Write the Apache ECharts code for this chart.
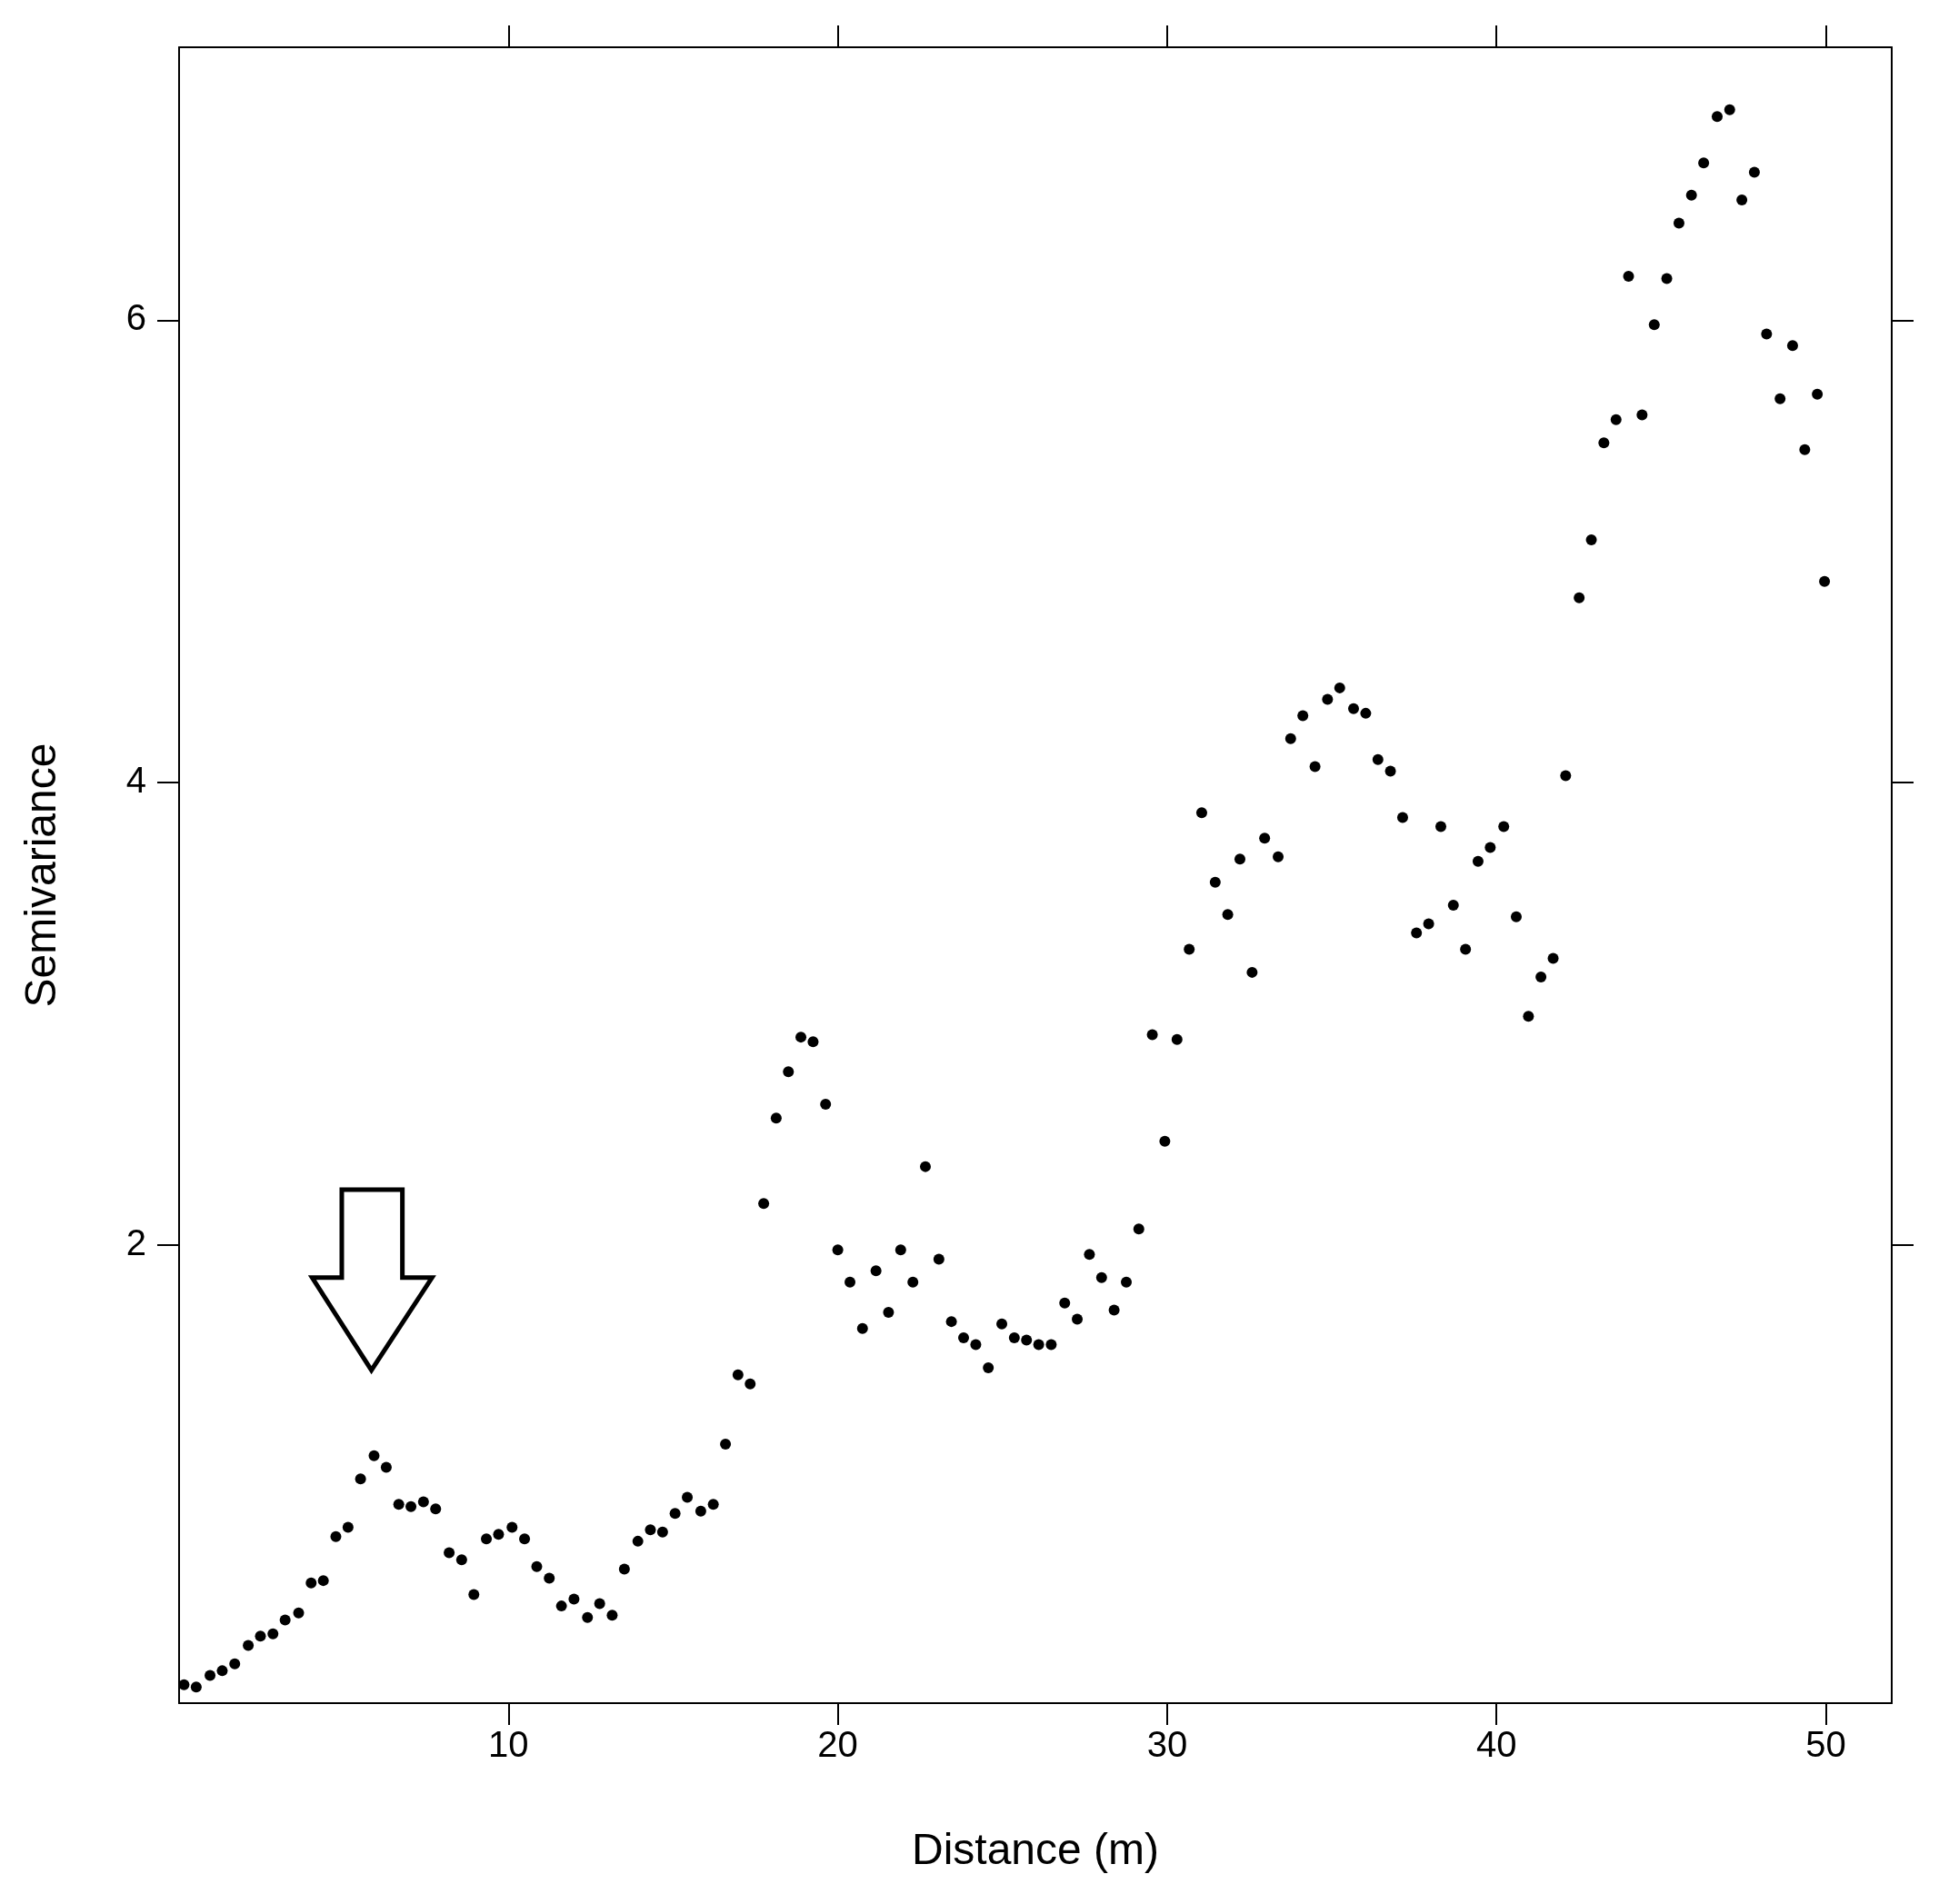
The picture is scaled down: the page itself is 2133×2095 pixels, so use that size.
<!DOCTYPE html>
<html><head><meta charset="utf-8">
<script src="https://cdn.jsdelivr.net/npm/echarts@6/dist/echarts.min.js"></script>
<style>html,body{margin:0;padding:0;background:#fff}#c{width:2133px;height:2095px}</style>
</head><body><div id="c"></div>
<script>
const distance=[0.15,0.52,0.94,1.31,1.69,2.10,2.47,2.85,3.22,3.63,4.01,4.38,4.76,5.13,5.51,5.92,6.29,6.67,7.04,7.42,7.79,8.20,8.58,8.95,9.33,9.70,10.11,10.49,10.86,11.24,11.61,11.99,12.40,12.77,13.15,13.52,13.93,14.31,14.68,15.06,15.43,15.84,16.22,16.59,16.97,17.34,17.75,18.13,18.50,18.88,19.25,19.63,20.00,20.37,20.75,21.16,21.54,21.91,22.28,22.66,23.07,23.45,23.82,24.19,24.57,24.98,25.36,25.73,26.10,26.48,26.89,27.27,27.64,28.01,28.39,28.76,29.14,29.55,29.93,30.30,30.67,31.05,31.46,31.84,32.21,32.58,32.96,33.37,33.75,34.12,34.49,34.87,35.24,35.66,36.03,36.40,36.78,37.15,37.57,37.94,38.31,38.69,39.06,39.44,39.81,40.22,40.60,40.97,41.35,41.72,42.10,42.51,42.88,43.26,43.63,44.01,44.42,44.79,45.17,45.54,45.92,46.29,46.70,47.08,47.45,47.83,48.20,48.61,48.99,49.36,49.74,49.96];
const semivariance=[0.10,0.09,0.14,0.16,0.19,0.27,0.31,0.32,0.38,0.41,0.54,0.55,0.74,0.78,0.99,1.09,1.04,0.88,0.87,0.89,0.86,0.67,0.64,0.49,0.73,0.75,0.78,0.73,0.61,0.56,0.44,0.47,0.39,0.45,0.40,0.60,0.72,0.77,0.76,0.84,0.91,0.85,0.88,1.14,1.44,1.40,2.18,2.55,2.75,2.90,2.88,2.61,1.98,1.84,1.64,1.89,1.71,1.98,1.84,2.34,1.94,1.67,1.60,1.57,1.47,1.66,1.60,1.59,1.57,1.57,1.75,1.68,1.96,1.86,1.72,1.84,2.07,2.91,2.45,2.89,3.28,3.87,3.57,3.43,3.67,3.18,3.76,3.68,4.19,4.29,4.07,4.36,4.41,4.32,4.30,4.10,4.05,3.85,3.35,3.39,3.81,3.47,3.28,3.66,3.72,3.81,3.42,2.99,3.16,3.24,4.03,4.80,5.05,5.47,5.57,6.19,5.59,5.98,6.18,6.42,6.54,6.68,6.88,6.91,6.52,6.64,5.94,5.66,5.89,5.44,5.68,4.87];
const xTicks=[10,20,30,40,50];
const yTicks=[2,4,6];
const arrow=[[4.94,2.24],[6.78,2.24],[6.78,1.86],[7.68,1.86],[5.84,1.46],[4.04,1.86],[4.94,1.86]];
const F='Liberation Sans, Arial, sans-serif';
const chart=echarts.init(document.getElementById('c'));
const pts=distance.map((x,i)=>[x,semivariance[i]]);
const lineS={show:true,onZero:false,lineStyle:{color:'#000',width:2}};
const tickS={show:true,inside:false,length:24,lineStyle:{color:'#000',width:2}};
function xa(pos,lab){return {type:'value',position:pos,min:0,max:52,splitLine:{show:false},axisLine:lineS,
 axisTick:Object.assign({},tickS,{customValues:xTicks}),
 axisLabel:{show:lab,customValues:xTicks,fontSize:40,color:'#000',fontFamily:F,margin:28},
 name:lab?'Distance (m)':'',nameLocation:'middle',nameGap:140,nameTextStyle:{fontSize:48,color:'#000',fontFamily:F}};}
function ya(pos,lab){return {type:'value',position:pos,min:0.02,max:7.18,splitLine:{show:false},axisLine:lineS,
 axisTick:Object.assign({},tickS,{customValues:yTicks}),
 axisLabel:{show:lab,customValues:yTicks,fontSize:40,color:'#000',fontFamily:F,margin:36},
 name:lab?'Semivariance':'',nameLocation:'middle',nameGap:125,nameTextStyle:{fontSize:48,color:'#000',fontFamily:F}};}
chart.setOption({animation:false,backgroundColor:'#fff',
 grid:{left:197,right:52,top:52,bottom:221},
 xAxis:[xa('bottom',true),xa('top',false)],
 yAxis:[ya('left',true),ya('right',false)],
 series:[{type:'scatter',data:pts,symbolSize:12,itemStyle:{color:'#000',opacity:1}}]});
const poly=arrow.map(p=>chart.convertToPixel({xAxisIndex:0,yAxisIndex:0},p));
chart.setOption({graphic:[{type:'polygon',shape:{points:poly},style:{fill:'#fff',stroke:'#000',lineWidth:5},z:100}]});
</script></body></html>
